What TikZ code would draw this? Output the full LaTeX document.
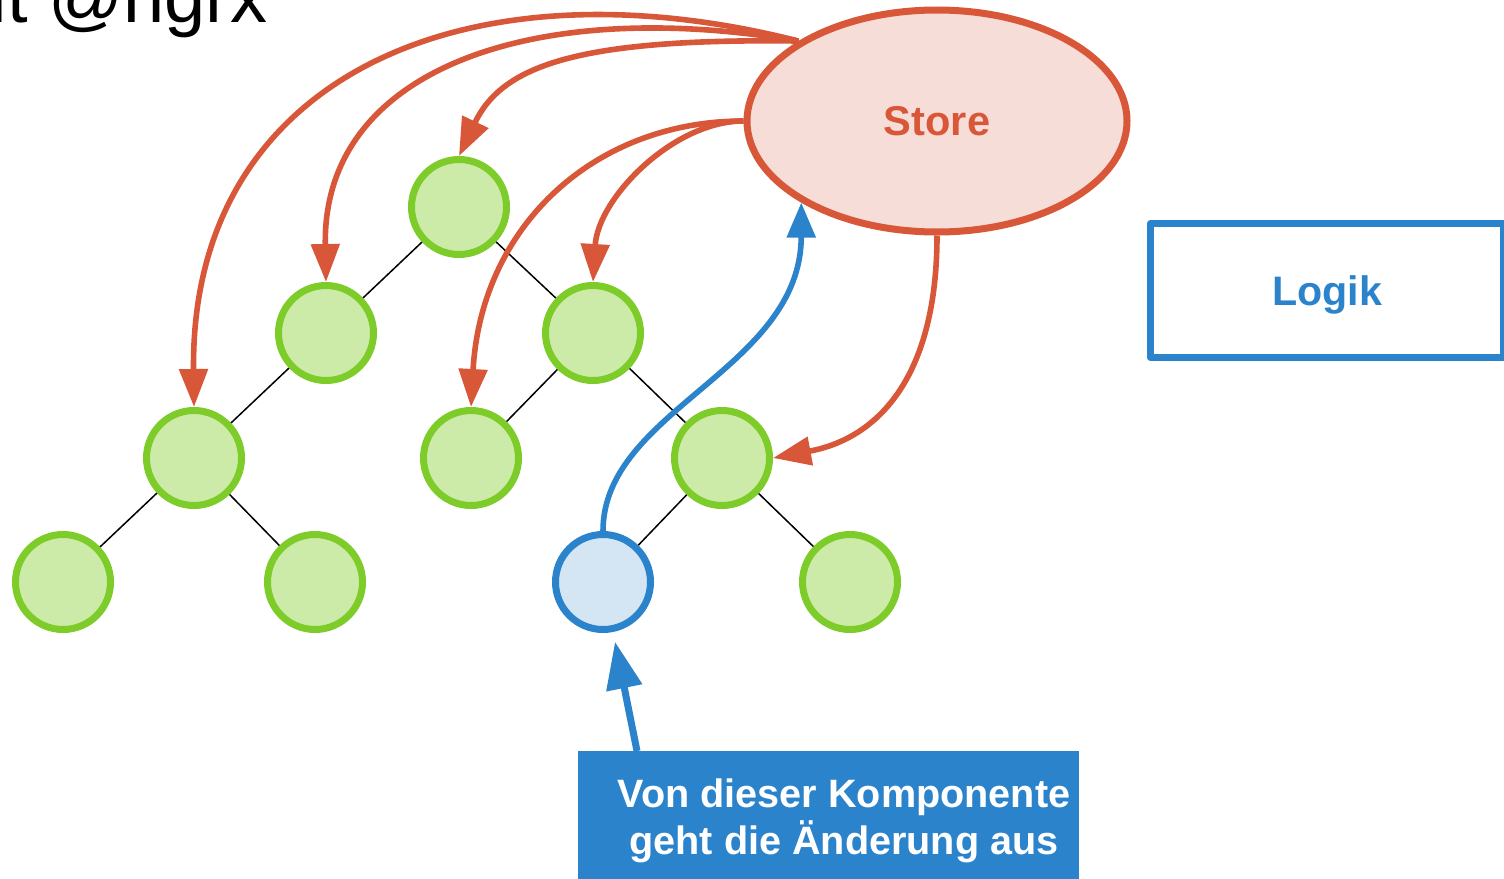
\documentclass[tikz,border=0pt]{standalone}
\usepackage{fontspec}
\setmainfont{Liberation Sans}
\usepackage{tikz}
\usetikzlibrary{shapes}
\usetikzlibrary{arrows.meta}
\definecolor{storered}{RGB}{217,87,57}
\definecolor{storefill}{RGB}{247,221,216}
\definecolor{compgreen}{RGB}{126,204,41}
\definecolor{compfill}{RGB}{205,235,168}
\definecolor{logikblue}{RGB}{43,131,204}
\definecolor{srcfill}{RGB}{212,229,244}
\tikzstyle{comp} = [circle, draw=compgreen, fill=compfill, line width=3.5pt,
   minimum size=47.5pt, inner sep=0pt]
\tikzstyle{compsrc} = [comp, draw=logikblue, fill=srcfill]
\tikzstyle{treeline} = [line width=0.75pt]
\tikzstyle{storeflow} = [draw=storered, line width=2.8pt,
   -{Triangle[length=19pt,width=14pt]}]
\tikzstyle{changeflow} = [draw=logikblue, line width=2.8pt,
   -{Triangle[length=17.5pt,width=14pt]}]

\begin{document}
\begin{tikzpicture}[x=0.5pt,y=-0.5pt]
  \useasboundingbox (0,0) rectangle (1504,878);
  \node[anchor=base east, inner sep=0pt] (title) at (268,22)
    {\fontsize{37pt}{44pt}\selectfont it @ngrx};
  % komponentenbaum
  \node[comp] (a1) at (459,207) {};
  \node[comp] (b1) at (326,333) {};
  \node[comp] (b2) at (593,333) {};
  \node[comp] (c1) at (194,458) {};
  \node[comp] (c2) at (471,458) {};
  \node[comp] (c3) at (722,458) {};
  \node[comp] (d1) at (63,582) {};
  \node[comp] (d2) at (315,582) {};
  \node[compsrc] (d3) at (603,582) {};
  \node[comp] (d4) at (850,582) {};
  \draw [treeline] (a1) -- (b1);
  \draw [treeline] (a1) -- (b2);
  \draw [treeline] (b1) -- (c1);
  \draw [treeline] (b2) -- (c2);
  \draw [treeline] (b2) -- (c3);
  \draw [treeline] (c1) -- (d1);
  \draw [treeline] (c1) -- (d2);
  \draw [treeline] (c3) -- (d3);
  \draw [treeline] (c3) -- (d4);
  % store und logik
  \node[ellipse, draw=storered, fill=storefill, line width=3.5pt,
    minimum width=190pt, minimum height=111pt, text depth=0pt,
    text=storered, font=\fontsize{20.8pt}{25pt}\selectfont\bfseries]
    (store) at (937,121) {Store};
  \node[rectangle, draw=logikblue, line width=3.5pt, line join=round,
    minimum width=176.5pt, minimum height=67pt, text depth=0pt,
    text=logikblue, font=\fontsize{20.6pt}{25pt}\selectfont\bfseries]
    (logik) at (1327,290.5) {Logik};
  \node[rectangle, fill=logikblue, anchor=north west,
    minimum width=250.5pt, minimum height=70pt] (hinweis) at (578,751) {};
  \node[align=center, text=white, inner sep=0pt,
    font=\fontsize{19.8pt}{23.5pt}\selectfont\bfseries]
    (hinweistext) at (844,821) {Von dieser Komponente\\geht die Änderung aus};
  \coordinate (hinweisstart) at (637,751);
  % pfeile
  \draw [storeflow] (store.150) .. controls +(-335,-85) and +(-4,-329) .. (c1.north);
  \draw [storeflow] (store.150) .. controls +(-263,-45) and +(-4,-214) .. (b1.north);
  \draw [storeflow] (store.150) .. controls +(-222,-3) and +(43,-90) .. (a1.north);
  \draw [storeflow] (store.west) .. controls +(-150,0) and +(10,-180) .. (c2.north);
  \draw [storeflow] (store.west) .. controls +(-70,0) and +(5,-84) .. (b2.north);
  \draw [storeflow] (store.south) .. controls +(0,139) and +(107,-20) .. (c3.east);
  \draw [changeflow] (d3.north) .. controls +(0,-121) and +(0,167) .. (store.211);
  \draw [draw=logikblue, line width=3.5pt, shorten >=5pt,
    -{Triangle[length=23.5pt,width=17.5pt]}] (hinweisstart) -- (d3);
\end{tikzpicture}
\end{document}
